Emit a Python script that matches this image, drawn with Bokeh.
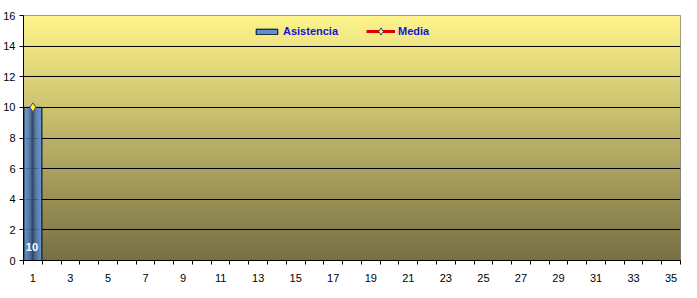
import numpy as np
from bokeh.plotting import figure
from bokeh.core.properties import value
from bokeh.models import (Range1d, FixedTicker, ColumnDataSource, LabelSet,
                          Legend, LegendItem)
from bokeh.embed import file_html
from bokeh.resources import INLINE

# ---- data ----
categories = list(range(1, 36))
asistencia = [10] + [None] * 34
media = [10] + [None] * 34
y_ticks = [0, 2, 4, 6, 8, 10, 12, 14, 16]

FONT = "Liberation Sans"

p = figure(width=697, height=298, output_backend="svg", toolbar_location=None,
           x_range=Range1d(0.5, 35.5), y_range=Range1d(0, 16),
           min_border_left=22, min_border_right=17, min_border_top=15,
           min_border_bottom=38)
p.background_fill_color = "white"
p.border_fill_color = "white"
p.outline_line_color = "#808080"
p.outline_line_width = 1

# gradient plot-area background
top = np.array([255, 245, 140])
bot = np.array([120, 112, 68])
n = 256
tt = np.linspace(0, 1, n)[:, None]
cols = (bot * (1 - tt) + top * tt).astype(np.uint32)
img = np.empty((n, 1), dtype=np.uint32)
view = img.view(dtype=np.uint8).reshape((n, 1, 4))
view[:, 0, 0] = cols[:, 0]
view[:, 0, 1] = cols[:, 1]
view[:, 0, 2] = cols[:, 2]
view[:, 0, 3] = 255
bg = p.image_rgba(image=[img], x=p.x_range.start, y=p.y_range.start,
                  dw=p.x_range.end - p.x_range.start,
                  dh=p.y_range.end - p.y_range.start)
bg.level = "image"

# grid
p.xgrid.visible = False
p.ygrid.ticker = FixedTicker(ticks=y_ticks[1:-1])
p.ygrid.grid_line_color = "black"
p.ygrid.grid_line_width = 1

# bars with horizontal cylinder gradient
bar_w = 0.96
light = np.array([98, 152, 226])
dark = np.array([16, 28, 52])
nstrip = 20
bx, by, bcol = [], [], []
for c, v in zip(categories, asistencia):
    if v is None:
        continue
    for k in range(nstrip):
        t = (k + 0.5) / nstrip * 2 - 1
        a = min(1.0, abs(t) ** 0.35)
        col = dark * (1 - a) + light * a
        bx.append(c - bar_w / 2 + (k + 0.5) * bar_w / nstrip)
        by.append(v)
        bcol.append("#%02x%02x%02x" % tuple(int(x) for x in col))
p.vbar(x=bx, top=by, bottom=0, width=bar_w / nstrip * 1.15, fill_color=bcol,
       line_color=None)
bar_x = [c for c, v in zip(categories, asistencia) if v is not None]
bar_v = [v for v in asistencia if v is not None]
p.vbar(x=bar_x, top=bar_v, bottom=0, width=bar_w, fill_color=None,
       line_color="black", line_width=1)

# legend dummies
leg_bar = p.vbar(x=[0], top=[0], width=0, fill_color="#5a8ed6",
                 line_color="black", visible=False)
leg_line = p.line([0, 0], [0, 0], line_color="#dd0000", line_width=3,
                  visible=False)
leg_mark = p.scatter([0], [0], marker="diamond", size=9, fill_color="#ffff00",
                     line_color="#3333cc", line_width=1, visible=False)

# value labels
lab_src = ColumnDataSource(dict(x=bar_x, y=[0] * len(bar_x),
                                t=[str(v) for v in bar_v]))
p.add_layout(LabelSet(x="x", y="y", text="t", source=lab_src, y_offset=14,
                      x_offset=-1,
                      text_align="center", text_baseline="middle",
                      text_color="white", text_font_style="bold",
                      text_font=value(FONT), text_font_size="11px"))

# media line
mx = list(categories)
my = [np.nan if v is None else v for v in media]
p.line(mx, my, line_color="#dd0000", line_width=3)
p.scatter(mx, my, marker="diamond", size=9, fill_color="#ffff00",
          line_color="#3333cc", line_width=1)

# axes
xa = p.xaxis[0]
xa.ticker = FixedTicker(ticks=[c for c in categories if c % 2 == 1],
                        minor_ticks=[c - 0.5 for c in categories] + [35.5])
xa.major_tick_out = 0
xa.major_tick_in = 0
xa.minor_tick_out = 4
xa.minor_tick_in = 0
xa.minor_tick_line_color = "black"
xa.axis_line_color = "black"
xa.major_label_standoff = 9
xa.major_label_text_font = FONT
xa.major_label_text_font_size = "11px"
xa.major_label_text_color = "black"

ya = p.yaxis[0]
ya.ticker = FixedTicker(ticks=y_ticks, minor_ticks=[])
ya.major_tick_out = 4
ya.major_tick_in = 0
ya.major_tick_line_color = "black"
ya.axis_line_color = "black"
ya.major_label_standoff = 4
ya.major_label_text_font = FONT
ya.major_label_text_font_size = "11px"
ya.major_label_text_color = "black"

common = dict(orientation="horizontal", padding=0, margin=0, spacing=0,
              label_standoff=3, border_line_color=None,
              background_fill_alpha=0, label_text_font=FONT,
              label_text_font_size="11px", label_text_font_style="bold",
              label_text_color="#1414d8", label_height=12)
legend1 = Legend(items=[LegendItem(label="Asistencia", renderers=[leg_bar])],
                 location=(230, 223), glyph_width=27, glyph_height=7, **common)
legend2 = Legend(items=[LegendItem(label="Media", renderers=[leg_line, leg_mark])],
                 location=(343, 220), glyph_width=29, glyph_height=18, **common)
p.add_layout(legend1, "center")
p.add_layout(legend2, "center")

open("out.html", "w").write(file_html(p, INLINE))
